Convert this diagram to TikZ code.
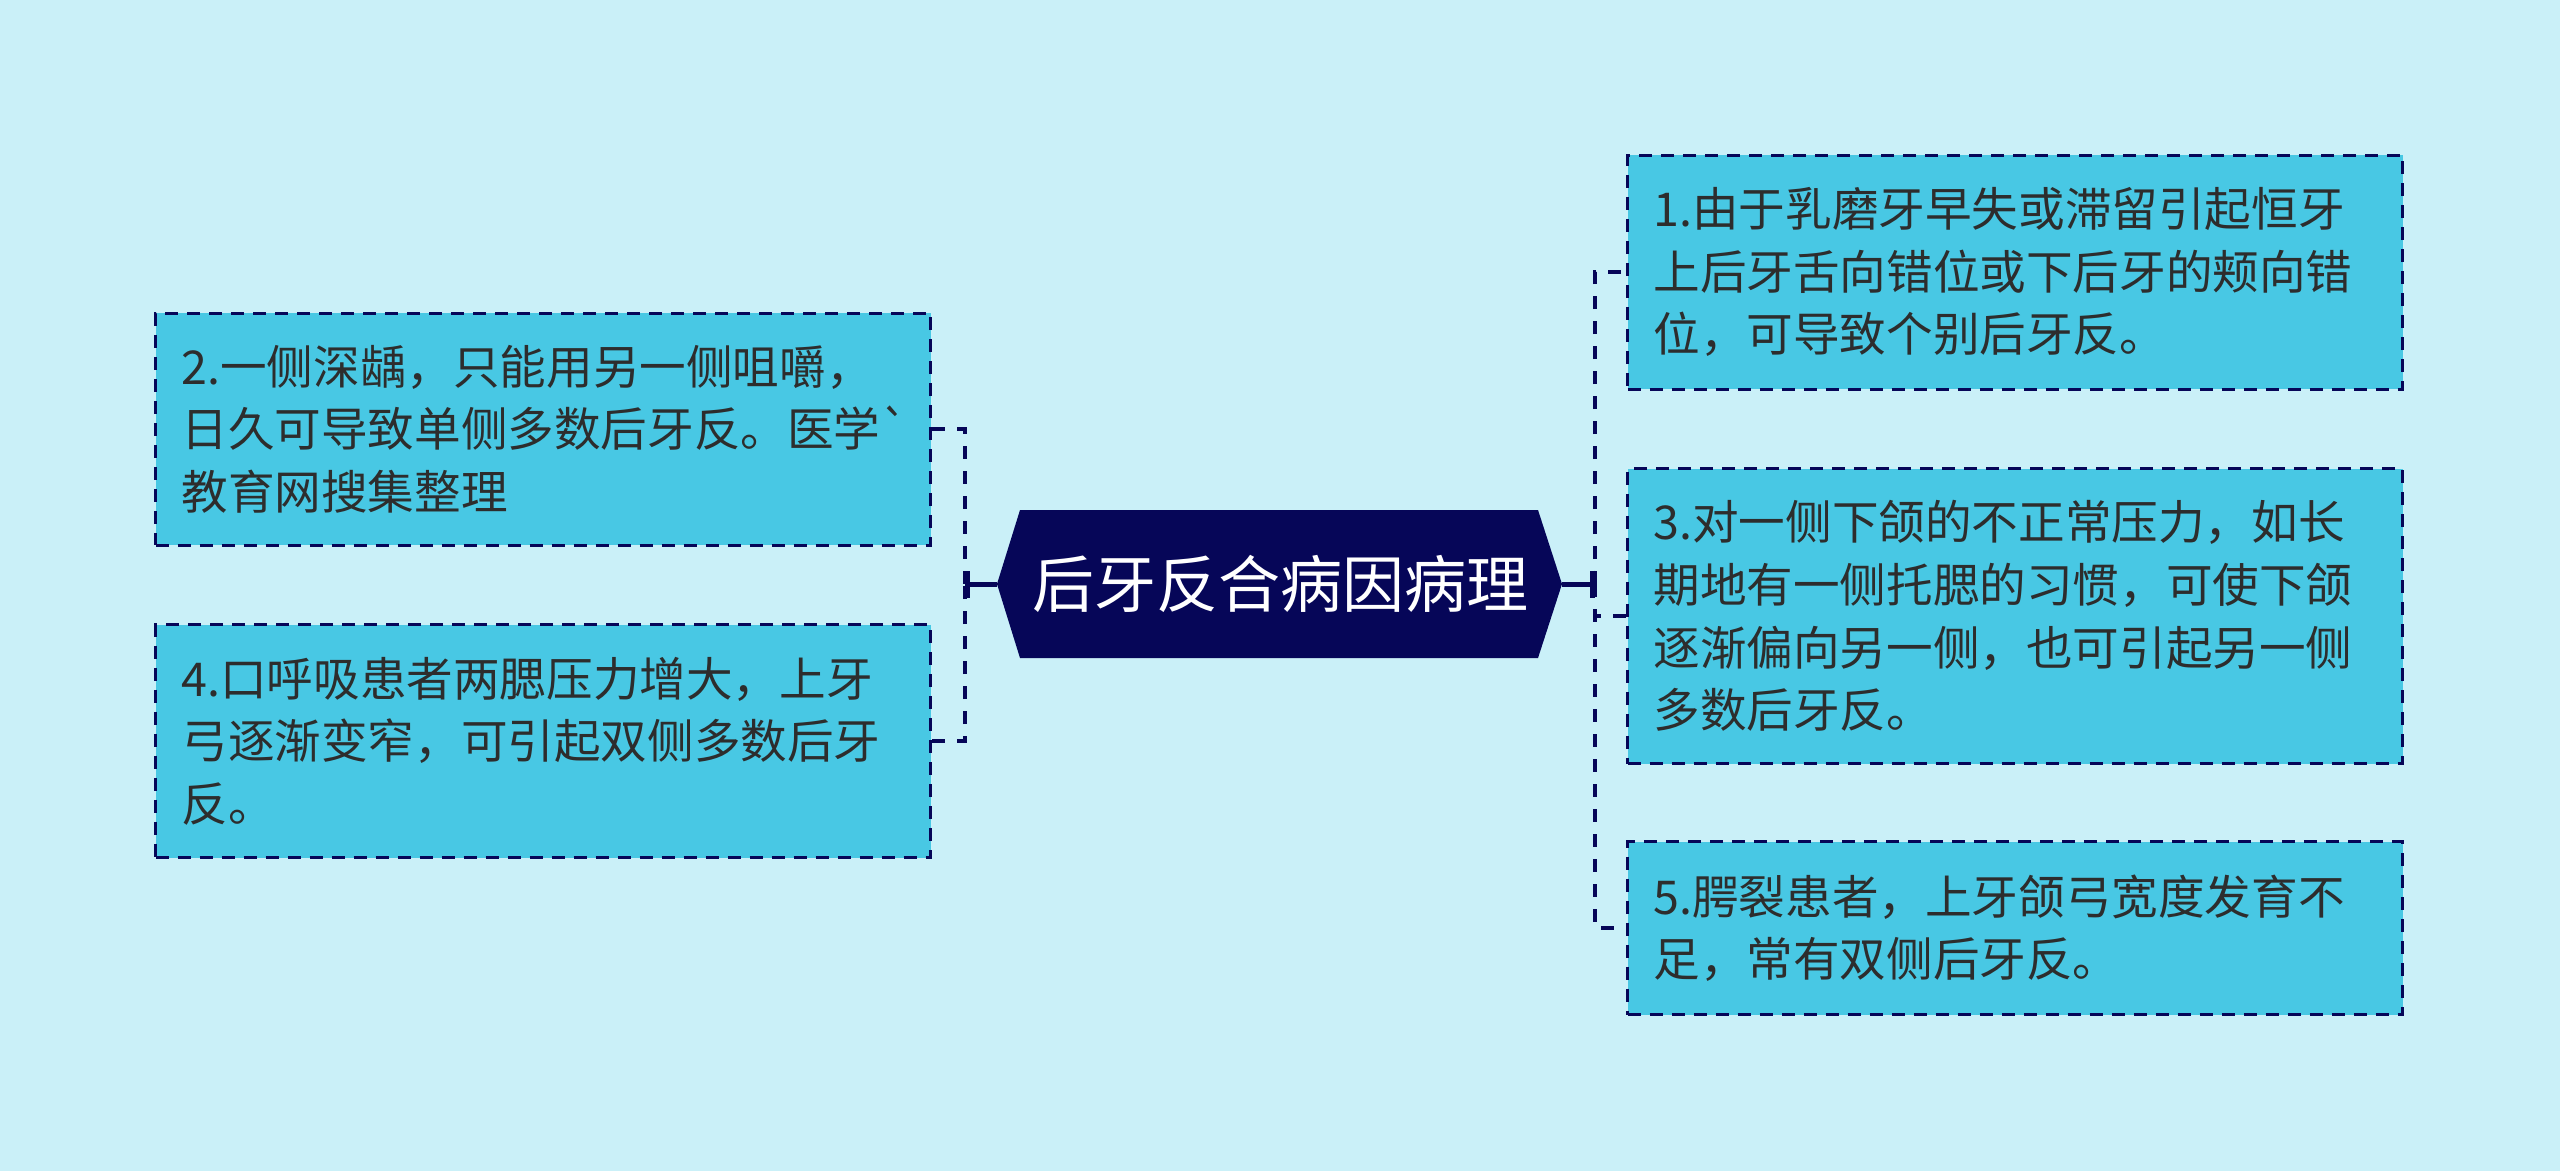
\documentclass[tikz,border=0pt]{standalone}
\usepackage{fontspec}
\setmainfont{Noto Sans CJK SC}
\usetikzlibrary{arrows.meta}
\definecolor{bgcol}{RGB}{202,240,248}
\definecolor{boxfill}{RGB}{72,200,228}
\definecolor{navy}{RGB}{6,6,88}
\definecolor{txtgray}{RGB}{45,45,45}
\tikzstyle{leafbox}=[
    draw=navy,fill=boxfill,line width=3pt,dash pattern=on 13pt off 9pt,
    text=txtgray,text width=723pt,align=left,inner xsep=26pt,inner ysep=0pt,
    font=\fontsize{46.6}{62.6}\selectfont
    ]
\tikzstyle{link}=[draw=navy,line width=4pt,dash pattern=on 13pt off 12pt]
\tikzstyle{rootlink}=[draw=navy,line width=5pt,-{Bar[width=27pt]}]
\begin{document}
\begin{tikzpicture}[x=1pt,y=-1pt]
\useasboundingbox[fill=bgcol] (0,0) rectangle (2560,1171);
%root
\coordinate (rootW) at (997,584);
\coordinate (rootE) at (1562,584);
\fill[navy] (rootW) -- (1020,510) -- (1538,510) -- (rootE) -- (1538,658) -- (1020,658) -- cycle;
\node[text=white,font=\fontsize{62}{70}\selectfont] (root) at (1280,584) {后牙反合病因病理};
%left boxes
\node[leafbox,minimum height=232pt] (b2) at (543,429) {2.一侧深龋，只能用另一侧咀嚼，\\日久可导致单侧多数后牙反。医学\textasciigrave\\教育网搜集整理};
\node[leafbox,minimum height=233pt] (b4) at (543,741) {4.口呼吸患者两腮压力增大，上牙\\弓逐渐变窄，可引起双侧多数后牙\\反。};
%right boxes
\node[leafbox,minimum height=234pt] (b1) at (2015,272) {1.由于乳磨牙早失或滞留引起恒牙\\上后牙舌向错位或下后牙的颊向错\\位，可导致个别后牙反。};
\node[leafbox,minimum height=295pt] (b3) at (2015,616) {3.对一侧下颌的不正常压力，如长\\期地有一侧托腮的习惯，可使下颌\\逐渐偏向另一侧，也可引起另一侧\\多数后牙反。};
\node[leafbox,minimum height=173pt] (b5) at (2015,928) {5.腭裂患者，上牙颌弓宽度发育不\\足，常有双侧后牙反。};
%links
\coordinate (lj) at (965,584);
\coordinate (rj) at (1595,584);
\draw[link] (b2.east) -| (lj);
\draw[link] (b4.east) -| (lj);
\draw[link] (rj) |- (b1.west);
\draw[link] (rj) |- (b3.west);
\draw[link] (rj) |- (b5.west);
\draw[rootlink] (rootW) -- (lj);
\draw[rootlink] (rootE) -- (rj);
\end{tikzpicture}
\end{document}
